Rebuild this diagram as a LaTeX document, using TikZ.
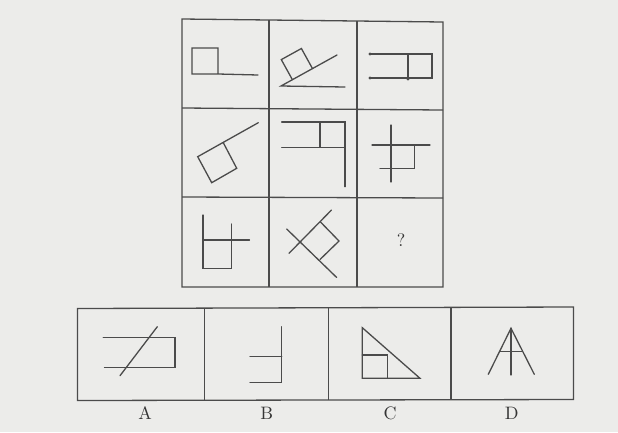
\documentclass[tikz,border=0pt]{standalone}
\usepackage{fontspec}
\usetikzlibrary{calc}
\definecolor{paper}{RGB}{236,236,234}
\definecolor{ink}{RGB}{75,75,75}
\begin{document}
\begin{tikzpicture}[x=1pt,y=-1pt,
  frame/.style={draw=ink,line width=1.3pt},
  fig/.style={draw=ink,line width=1.3pt,line cap=round,line join=miter},
  lab/.style={text=ink!70!black,inner sep=0pt,scale=1.8}]
\fill[paper] (0,0) rectangle (618,432);
\useasboundingbox (0,0) rectangle (618,432);
% ---------- 3x3 grid ----------
\draw[frame] (182,19) -- (443,22) -- (443,287) -- (182,287) -- cycle;
\draw[frame] (269,20) -- (269,287);
\draw[frame] (357,21) -- (357,287);
\draw[frame] (182,108) -- (443,110);
\draw[frame] (182,197) -- (443,198);
% cell 1
\draw[fig] (218,74) -- (192,74) -- (192,48) -- (218,48) -- (218,74) -- (258,75);
% cell 2
\draw[fig] (345,87) -- (281,86) -- (337,55);
\draw[fig] (292.4,79.7) -- (281.3,59.6) -- (301.4,48.5) -- (312.5,68.6);
% cell 3
\draw[fig] (370,54) -- (432,54) -- (432,78) -- (370,78);
\draw[fig] (408,54) -- (408,79);
\fill[ink] (370,54) circle (1.7) (370,78) circle (1.7) (408,79) circle (1.7);
% cell 4
\draw[fig] (258.3,122.7) -- (197.7,156.7) -- (211.7,182.7) -- (236.7,168.3) -- (223.3,142.7);
% cell 5
\draw[fig] (281.7,122) -- (345,122) -- (345,186.7);
\draw[fig] (281.7,147.3) -- (345,147.3);
\draw[fig] (320,122) -- (320,147.3);
% cell 6
\draw[fig] (391,125) -- (391,182);
\draw[fig] (372,145) -- (430,145);
\draw[fig] (414.3,145) -- (414.3,168.5) -- (380,168.5);
% cell 7
\draw[fig] (203,215) -- (203,268.5) -- (231.7,268.5) -- (231.7,224);
\draw[fig] (203,240) -- (249.5,240);
% cell 8
\draw[fig] (286.7,229) -- (336.7,277.5);
\draw[fig] (289,253.3) -- (331.5,210);
\draw[fig] (320.5,222) -- (339,241) -- (320,259.5);
% cell 9
\node[lab,scale=1.0] (q) at (401,240) {?};
% ---------- options ----------
\draw[frame] (77.5,308.5) -- (573.5,307) -- (573.5,399.5) -- (77.5,400.5) -- cycle;
\draw[frame] (204.3,308) -- (204.3,400);
\draw[frame] (328.3,308) -- (328.3,400);
\draw[frame] (451,307.5) -- (451,400);
% A
\draw[fig] (103.3,337.3) -- (175,337.3) -- (175,367.7) -- (104.5,367.7);
\draw[fig] (120,375.7) -- (157.3,326.7);
% B
\draw[fig] (281.7,326.7) -- (281.7,382.3) -- (250,382.3);
\draw[fig] (250,356.7) -- (281.7,356.7);
% C
\draw[fig] (362.3,327.7) -- (362.3,378.3) -- (420,378.3) -- cycle;
\draw[fig] (362.3,355) -- (387.7,355) -- (387.7,378.3);
% D
\draw[fig] (488.3,374.3) -- (511,328.3) -- (534.3,374.3);
\draw[fig] (511,328.3) -- (511,375);
\draw[fig] (500,351.7) -- (522,351.7);
% labels
\node[lab] (la) at (145,413) {A};
\node[lab] (lb) at (266.7,413) {B};
\node[lab] (lc) at (390,413) {C};
\node[lab] (ld) at (511.7,413) {D};
\end{tikzpicture}
\end{document}
